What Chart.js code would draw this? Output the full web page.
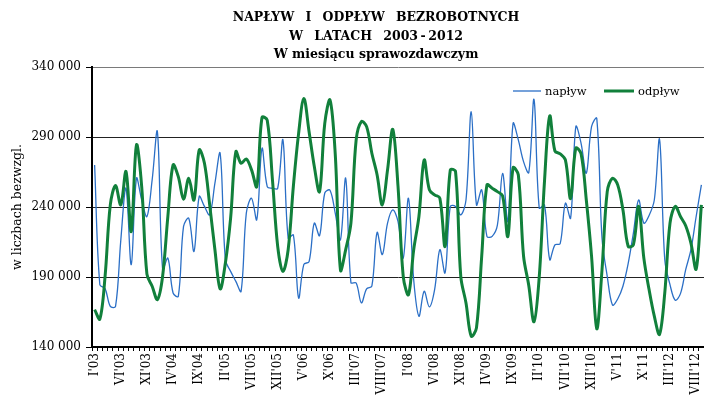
<!DOCTYPE html>
<html>
<head>
<meta charset="utf-8">
<script src="https://cdn.jsdelivr.net/npm/chart.js@4.4.0/dist/chart.umd.min.js"></script>
<style>
  html, body { margin: 0; padding: 0; background: #fff; }
</style>
</head>
<body>
<canvas id="chart" width="704" height="401"></canvas>
<script>
// --- dane: miesiące I'03 .. IX'12 ---
const romanMonths = ['I', 'II', 'III', 'IV', 'V', 'VI', 'VII', 'VIII', 'IX', 'X', 'XI', 'XII'];
const years = ['03', '04', '05', '06', '07', '08', '09', '10', '11', '12'];
const lastMonthOfLastYear = 9; // IX'12

const categories = [];
years.forEach((yy, k) => {
  const n = k === years.length - 1 ? lastMonthOfLastYear : 12;
  for (let m = 0; m < n; m++) categories.push(romanMonths[m] + "'" + yy);
});

const yTicks = [140000, 190000, 240000, 290000, 340000];

const naplyw = [
  270000, 184500, 181700, 169000, 169000, 216000, 253400, 198800, 260500, 245000,
  233200, 259400, 293800, 195200, 203500, 178600, 176200, 226100, 232000, 208300,
  247500, 240400, 234400, 257000, 278400, 202400, 194000, 186900, 179800, 235600,
  246300, 230900, 281900, 254600, 253400, 253400, 287900, 217800, 220000, 175000,
  199000, 201000, 228500, 219500, 250000, 252000, 235600, 216600, 260500, 186000,
  185700, 171500, 181500, 183400, 221800, 206000, 228500, 238000, 229700, 203500,
  246300, 188000, 162000, 179800, 168600, 181000, 209500, 192900, 240400, 240400,
  234400, 245000, 308000, 241500, 252300, 219000, 219000, 227000, 264000, 229700,
  299700, 287900, 272400, 264600, 316800, 239200, 241500, 202400, 213000, 213800,
  242700, 232000, 297400, 285500, 264100, 297400, 303300, 217800, 190500, 170000,
  174300, 183400, 199500, 221400, 245000, 228500, 233900, 245000, 288300, 202400,
  184500, 173400, 178100, 195200, 209500, 233200, 255800
];

const odplyw = [
  166700, 160000, 190500, 241500, 255300, 241500, 265300, 222500, 284300, 254600,
  192000, 183400, 173900, 190500, 233200, 270000, 261700, 245600, 260500, 245000,
  280700, 271200, 241500, 209500, 181500, 200000, 232000, 279500, 271200, 274300,
  266500, 254600, 304000, 302000, 259400, 211900, 194000, 209500, 255000, 292600,
  317500, 293800, 268900, 251000, 299700, 316400, 278000, 195000, 209500, 228500,
  287900, 301000, 297400, 278400, 263000, 241500, 266500, 295500, 255000, 190500,
  177400, 209500, 233200, 273600, 252300, 248700, 246300, 211900, 266500, 265300,
  190500, 171500, 147700, 153700, 204700, 255800, 253400, 251000, 248000, 219000,
  268000, 263000, 205000, 184000, 158000, 190000, 258000, 305000, 280000, 278000,
  273600, 246000, 282000, 278000, 245000, 205000, 153000, 195000, 251000, 260500,
  255800, 238000, 212000, 213000, 240400, 203500, 181000, 162000, 149000, 178600,
  228500, 240400, 233200, 226600, 214200, 195700, 241500
];

const titleLines = [
  'NAPŁYW \u2009 I \u2009 ODPŁYW \u2009 BEZROBOTNYCH',
  'W \u2009 LATACH \u2009 2003\u2009-\u20092012',
  'W miesiącu sprawozdawczym'
];

const BLUE = '#2b6fc6';
const GREEN = '#11803b';
const SERIF = "'DejaVu Serif', serif";

function fmtThousands(v) {
  return String(v).replace(/\B(?=(\d{3})+(?!\d))/g, ' ');
}

// tytuł rysowany ręcznie, żeby wyśrodkować go tak jak w oryginale
const titlePlugin = {
  id: 'titleLines',
  afterDraw(chart) {
    const ctx = chart.ctx;
    ctx.save();
    ctx.fillStyle = '#000';
    ctx.font = 'bold 12.5px ' + SERIF;
    ctx.textAlign = 'center';
    ctx.textBaseline = 'middle';
    titleLines.forEach((line, k) => ctx.fillText(line, 376, 18 + k * 18.5));
    ctx.restore();
  }
};

// legenda w obszarze wykresu (prawy górny róg)
const legendPlugin = {
  id: 'inlineLegend',
  afterDatasetsDraw(chart) {
    const ctx = chart.ctx;
    const slots = [{ x: 513, w: 28 }, { x: 604, w: 30 }];
    const y = 91;
    ctx.save();
    ctx.font = '11.5px ' + SERIF;
    ctx.textBaseline = 'middle';
    ctx.fillStyle = '#000';
    chart.data.datasets.forEach((ds, k) => {
      const s = slots[k];
      ctx.strokeStyle = ds.borderColor;
      ctx.lineWidth = ds.borderWidth;
      ctx.beginPath();
      ctx.moveTo(s.x, y);
      ctx.lineTo(s.x + s.w, y);
      ctx.stroke();
      ctx.fillText(ds.label, s.x + s.w + 4, y + 1);
    });
    ctx.restore();
  }
};

Chart.defaults.font.family = SERIF;
Chart.defaults.color = '#000';

new Chart(document.getElementById('chart'), {
  type: 'line',
  data: {
    labels: categories,
    datasets: [
      {
        label: 'napływ',
        data: naplyw,
        borderColor: BLUE,
        borderWidth: 1.3,
        pointRadius: 0,
        tension: 0.35,
        fill: false,
        order: 1
      },
      {
        label: 'odpływ',
        data: odplyw,
        borderColor: GREEN,
        borderWidth: 3,
        pointRadius: 0,
        tension: 0.35,
        fill: false,
        order: 0
      }
    ]
  },
  options: {
    responsive: false,
    animation: false,
    devicePixelRatio: 1,
    layout: { padding: { top: 67, right: 0, bottom: 0, left: 0 } },
    plugins: {
      legend: { display: false },
      title: { display: false },
      tooltip: { enabled: false }
    },
    scales: {
      x: {
        type: 'category',
        offset: true,
        afterFit(scale) {
          scale.height = 54;
          scale.paddingLeft = 0;
          scale.paddingRight = 0;
        },
        border: { display: true, color: '#000', width: 2 },
        grid: {
          offset: true,
          drawOnChartArea: false,
          drawTicks: true,
          tickLength: 4,
          tickColor: '#000',
          lineWidth: 1
        },
        ticks: {
          autoSkip: false,
          minRotation: 90,
          maxRotation: 90,
          padding: 2,
          font: { size: 12 },
          callback(value, index) {
            return index % 5 === 0 ? categories[index] : '';
          }
        }
      },
      y: {
        min: yTicks[0],
        max: yTicks[yTicks.length - 1],
        afterBuildTicks(scale) { scale.ticks = yTicks.map(v => ({ value: v })); },
        afterFit(scale) {
          scale.width = 92;
          scale.paddingTop = 0;
          scale.paddingBottom = 0;
        },
        border: { display: true, color: '#000', width: 2 },
        grid: {
          color: ctx => (ctx.tick && ctx.tick.value === 340000 ? '#7a7a7a' : '#222'),
          lineWidth: 1,
          drawTicks: true,
          tickLength: 6,
          tickColor: '#000'
        },
        ticks: {
          padding: 5,
          font: { size: 12 },
          callback: v => fmtThousands(v)
        },
        title: {
          display: true,
          text: 'w liczbach bezwzgl.',
          font: { size: 12.5 },
          padding: { top: 10, bottom: 0 }
        }
      }
    }
  },
  plugins: [titlePlugin, legendPlugin]
});
</script>
</body>
</html>
